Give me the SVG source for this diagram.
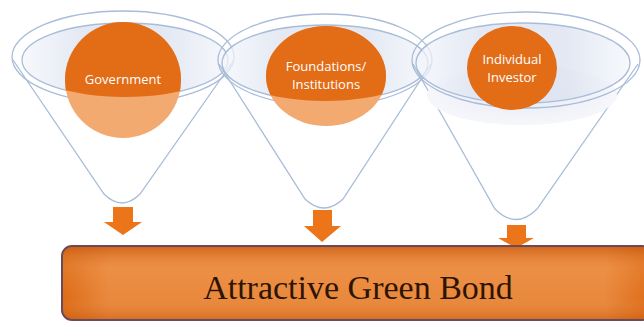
<svg xmlns="http://www.w3.org/2000/svg" width="644" height="322" viewBox="0 0 644 322">
<defs>
<style>
.rim{fill:none;stroke:#a9bcd9;stroke-width:1.3}
.cone{fill:none;stroke:#a9bcd9;stroke-width:1.3}
.inner{fill:url(#bowl);fill-opacity:0.75;stroke:#a9bcd9;stroke-width:1.3}
.dark{fill:#e36c17}
.light{fill:#f3aa70}
.lbl{font-family:"Open Sans","Liberation Sans",sans-serif;font-size:13px;fill:#ffffff;text-anchor:middle}
.arrow{fill:#ec7419}
</style>
<linearGradient id="bowl" x1="0" y1="0" x2="1" y2="0">
<stop offset="0" stop-color="#f4f6fb"/>
<stop offset="0.3" stop-color="#dae1ef"/>
<stop offset="0.7" stop-color="#dae1ef"/>
<stop offset="1" stop-color="#f4f6fb"/>
</linearGradient>
<linearGradient id="barH" x1="0" y1="0" x2="1" y2="0">
<stop offset="0" stop-color="#d9650f"/>
<stop offset="0.08" stop-color="#e8863a"/>
<stop offset="0.92" stop-color="#e8863a"/>
<stop offset="1" stop-color="#d9650f"/>
</linearGradient>
<linearGradient id="barV" x1="0" y1="0" x2="0" y2="1">
<stop offset="0" stop-color="#c85a10" stop-opacity="0.7"/>
<stop offset="0.3" stop-color="#f6a45e" stop-opacity="0.3"/>
<stop offset="0.7" stop-color="#f6a45e" stop-opacity="0.1"/>
<stop offset="1" stop-color="#c85a10" stop-opacity="0.5"/>
</linearGradient>
<clipPath id="c1"><rect x="0" y="0" width="644" height="60"/><ellipse cx="125" cy="60" rx="103" ry="37"/></clipPath>
<clipPath id="c2"><rect x="0" y="0" width="644" height="63"/><ellipse cx="325" cy="63" rx="103" ry="38"/></clipPath>
<radialGradient id="shadow3" cx="0.5" cy="0.5" r="0.5">
<stop offset="0" stop-color="#e6eaf3"/>
<stop offset="1" stop-color="#f6f7fb"/>
</radialGradient>
</defs>
<rect width="644" height="322" fill="#ffffff"/>

<g id="funnel-government">
<path class="cone" d="M13,60 L104,194 Q122,212 140,194 L234,60"/>
<ellipse class="rim" cx="123" cy="57" rx="111" ry="46"/>
<ellipse class="inner" cx="125" cy="60" rx="103" ry="37"/>
<circle class="light" cx="123" cy="80" r="58"/>
<circle class="dark" cx="123" cy="80" r="58" clip-path="url(#c1)"/>
<text class="lbl" x="123" y="84">Government</text>
</g>

<g id="funnel-foundations">
<path class="cone" d="M219,64 L305,199 Q324,217 343,199 L431,64"/>
<ellipse class="rim" cx="325" cy="60" rx="107" ry="46"/>
<ellipse class="inner" cx="325" cy="63" rx="103" ry="38"/>
<ellipse class="light" cx="326" cy="76" rx="60" ry="50"/>
<ellipse class="dark" cx="326" cy="76" rx="60" ry="50" clip-path="url(#c2)"/>
<text class="lbl" x="326" y="71">Foundations/</text>
<text class="lbl" x="326" y="89">Institutions</text>
</g>

<g id="funnel-individual">
<path class="cone" d="M413,64 L495,209 Q516,230 537,209 L638,64"/>
<ellipse cx="522" cy="95" rx="95" ry="30" fill="url(#shadow3)"/>
<ellipse class="rim" cx="526" cy="60" rx="114" ry="48"/>
<ellipse class="inner" cx="523" cy="63" rx="107" ry="40"/>
<ellipse class="dark" cx="512" cy="68" rx="45" ry="42"/>
<text class="lbl" x="512" y="64">Individual</text>
<text class="lbl" x="512" y="82">Investor</text>
</g>

<g id="connectors">
<polygon class="arrow" points="113,207 133,207 133,222 142,222 123,235 104,222 113,222"/>
<polygon class="arrow" points="313,210 332,210 332,226 341,226 322,242 304,226 313,226"/>
<polygon class="arrow" points="507,225 526,225 526,238 534,238 516,248 498,238 507,238"/>
</g>

<g id="bond">
<rect x="62" y="246" width="590" height="74" rx="10" fill="url(#barH)" stroke="#6a4a5a" stroke-width="2"/>
<rect x="63" y="247" width="588" height="72" rx="9" fill="url(#barV)"/>
<text x="358" y="299" font-family="'Liberation Serif','Times New Roman',serif" font-size="34" fill="#2e1405" text-anchor="middle">Attractive Green Bond</text>
</g>
</svg>
